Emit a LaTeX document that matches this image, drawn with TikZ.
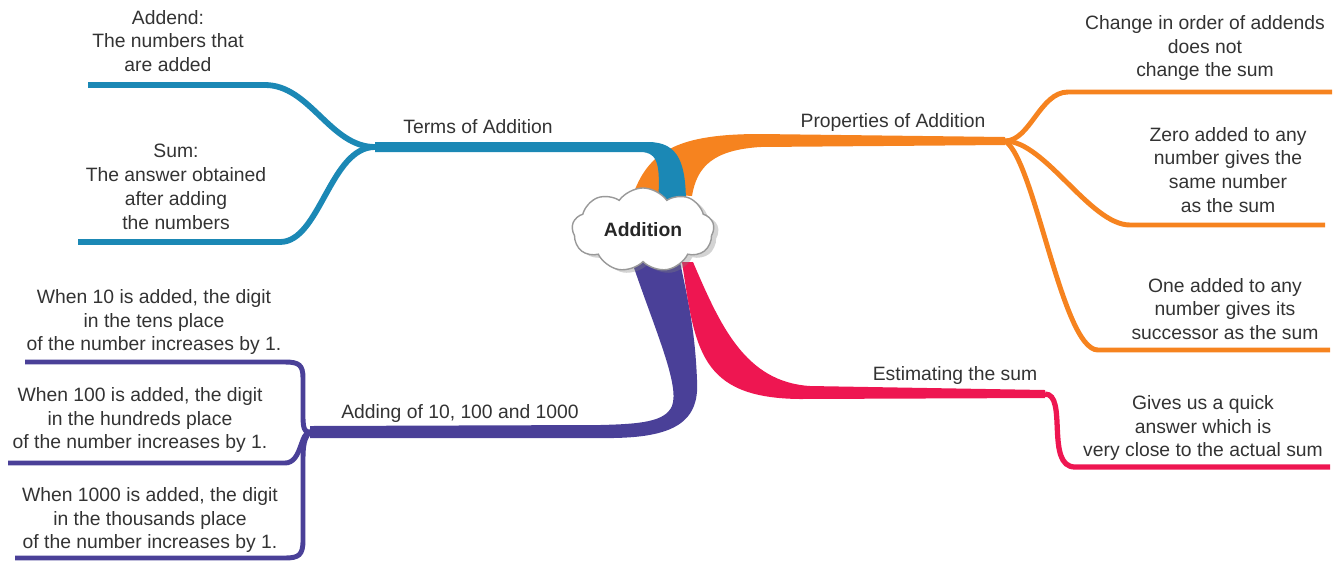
\documentclass[tikz,border=0pt]{standalone}
\usepackage{fontspec}
\setmainfont{Liberation Sans}
\usetikzlibrary{shapes.symbols}
\usetikzlibrary{shadows}
\usetikzlibrary{backgrounds}
\definecolor{termblue}{HTML}{1B88B5}
\definecolor{proporange}{HTML}{F6831F}
\definecolor{estred}{HTML}{EE1651}
\definecolor{addpurple}{HTML}{4A4098}
\definecolor{notegray}{HTML}{333333}
\tikzset{
  leaf/.style={line width=3.3pt},
  note/.style={align=center,font=\fontsize{11}{13.6}\selectfont,text=notegray,inner sep=0pt},
  topic/.style={font=\fontsize{11}{13.6}\selectfont,text=notegray,inner sep=0pt},
  centre/.style={cloud,cloud puffs=9,cloud puff arc=110,aspect=1.95,
    minimum width=2.84cm,minimum height=1.45cm,
    draw=gray!80,fill=white,line width=0.8pt,drop shadow={opacity=0.35,shadow yshift=-0.06cm},
    font=\bfseries\fontsize{11}{13}\selectfont,text=black!85}
}
\begin{document}
\begin{tikzpicture}[x=0.02cm,y=-0.02cm]
  \useasboundingbox (0,0) rectangle (1337,562);
  \node[centre] (add) at (643,230) {Addition};

  \coordinate (jterm) at (375,147);
  \coordinate (jprop) at (1005,141);
  \coordinate (jest)  at (1045,394);
  \coordinate (jadd)  at (310,432);

  \coordinate (addend) at (88,85);
  \coordinate (sum)    at (78,242);
  \coordinate (order)  at (1332,92);
  \coordinate (zero)   at (1325,225);
  \coordinate (one)    at (1330,350);
  \coordinate (quick)  at (1330,467);
  \coordinate (tens)   at (25,362);
  \coordinate (hund)   at (8,463);
  \coordinate (thou)   at (15,558);

  \begin{scope}[on background layer]
    % main branches
    \fill[proporange] (634,192) .. controls (650,150) and (680,134) .. (760,134) -- (jprop |- 0,137)
      -- (jprop |- 0,145) -- (760,147) .. controls (715,150) and (697,165) .. (692,196) -- cycle;
    \fill[termblue] (jterm |- 0,142) -- (648,142) .. controls (680,142) and (686,165) .. (686,206)
      -- (658,206) .. controls (660,168) and (660,152) .. (640,152) -- (jterm |- 0,152) -- cycle;
    \fill[addpurple] (632,262) .. controls (655,330) and (680,385) .. (672,406)
      .. controls (665,422) and (640,424) .. (600,425) -- (jadd |- 0,426) -- (jadd |- 0,438)
      -- (600,438) .. controls (670,439) and (700,425) .. (697,380)
      .. controls (695,330) and (688,300) .. (680,262) -- cycle;
    \fill[estred] (693,262) .. controls (720,325) and (745,382) .. (810,386) -- (jest |- 0,390)
      -- (jest |- 0,398) -- (800,399) .. controls (700,398) and (695,350) .. (682,262) -- cycle;

    % sub branches
    \draw[leaf,termblue] (jterm) .. controls (330,147) and (310,85) .. (265,85) -- (addend);
    \draw[leaf,termblue] (jterm) .. controls (330,147) and (320,242) .. (280,242) -- (sum);
    \draw[leaf,line width=2.8pt,proporange] (jprop) .. controls (1030,141) and (1040,92) .. (1068,92) -- (order);
    \draw[leaf,line width=2.8pt,proporange] (jprop) .. controls (1045,141) and (1090,225) .. (1130,225) -- (zero);
    \draw[leaf,line width=2.8pt,proporange] (jprop) .. controls (1035,160) and (1062,350) .. (1098,350) -- (one);
    \draw[leaf,line width=3pt,estred] (jest) .. controls (1068,394) and (1045,467) .. (1075,467) -- (quick);
    \draw[leaf,line width=2.8pt,addpurple] (jadd) .. controls (302,432) and (303,425) .. (303,400)
      -- (303,378) .. controls (303,365) and (299,362) .. (285,362) -- (tens);
    \draw[leaf,line width=2.8pt,addpurple] (jadd) .. controls (300,432) and (302,463) .. (285,463) -- (hund);
    \draw[leaf,line width=2.8pt,addpurple] (jadd) .. controls (302,440) and (303,450) .. (303,480)
      -- (303,540) .. controls (303,555) and (299,558) .. (285,558) -- (thou);
  \end{scope}

  \node[topic] (termlbl) at (478,127) {Terms of Addition};
  \node[topic] (proplbl) at (893,122) {Properties of Addition};
  \node[topic] (estlbl)  at (955,375) {Estimating the sum};
  \node[topic] (addlbl)  at (460,413) {Adding of 10, 100 and 1000};

  \node[note] (addendtxt) at (168,41)  {Addend:\\The numbers that\\are added};
  \node[note] (sumtxt)    at (176,187) {Sum:\\The answer obtained\\after adding\\the numbers};
  \node[note] (ordertxt)  at (1205,48) {Change in order of addends\\does not\\change the sum};
  \node[note] (zerotxt)   at (1228,170) {Zero added to any\\number gives the\\same number\\as the sum};
  \node[note] (onetxt)    at (1225,309) {One added to any\\number gives its\\successor as the sum};
  \node[note] (quicktxt)  at (1203,428) {Gives us a quick\\answer which is\\very close to the actual sum};
  \node[note] (tenstxt)   at (154,322) {When 10 is added, the digit\\in the tens place\\of the number increases by 1.};
  \node[note] (hundtxt)   at (140,420) {When 100 is added, the digit\\in the hundreds place\\of the number increases by 1.};
  \node[note] (thoutxt)   at (150,520) {When 1000 is added, the digit\\in the thousands place\\of the number increases by 1.};
\end{tikzpicture}
\end{document}
